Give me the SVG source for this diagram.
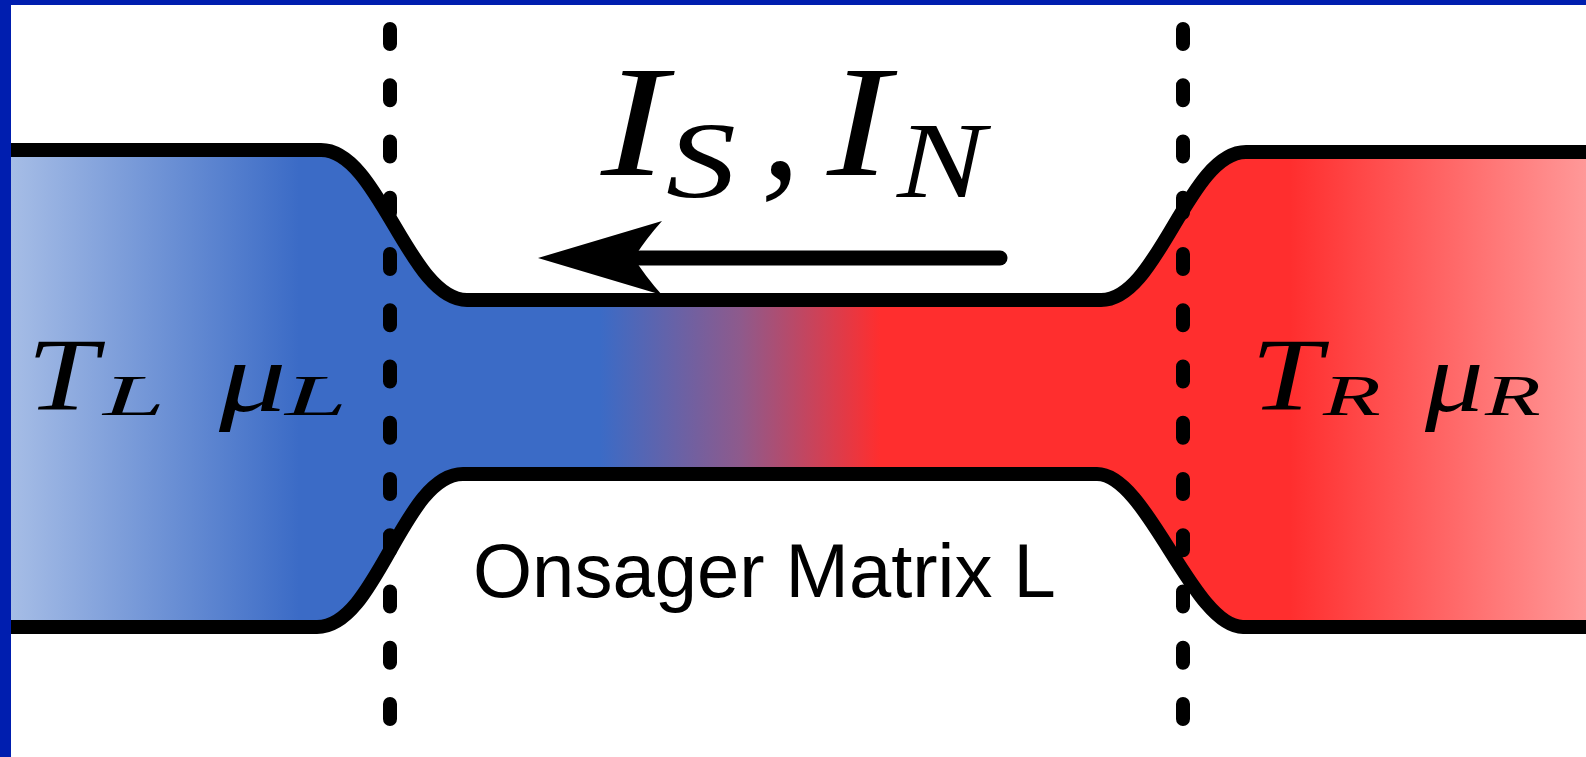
<svg xmlns="http://www.w3.org/2000/svg" width="1586" height="757" viewBox="0 0 1586 757">
  <style>
    .edge { fill: none; stroke: #000; stroke-width: 14; stroke-linejoin: round; }
    .dash { fill: none; stroke: #000; stroke-width: 14; stroke-linecap: round; stroke-dasharray: 15 41.25; }
    .math { font-family: "Liberation Serif", "Times New Roman", serif; font-style: italic; fill: #000; }
    .sans { font-family: "Liberation Sans", Arial, sans-serif; fill: #000; }
  </style>
  <defs>
    <linearGradient id="flow" gradientUnits="userSpaceOnUse" x1="11" y1="0" x2="1586" y2="0">
      <stop offset="0" stop-color="#a6bde6"/>
      <stop offset="0.183" stop-color="#3b6bc6"/>
      <stop offset="0.374" stop-color="#3b6bc6"/>
      <stop offset="0.463" stop-color="#8e5a8c"/>
      <stop offset="0.552" stop-color="#ff2e2e"/>
      <stop offset="0.812" stop-color="#ff2e2e"/>
      <stop offset="1" stop-color="#ff9898"/>
    </linearGradient>
  </defs>
  <rect x="0" y="0" width="1586" height="757" fill="#fff"/>

  <g id="channel">
    <path fill="url(#flow)" d="M 11 150 H 321 C 379 150 409 300 467 300 H 1100 C 1158 302 1188 152 1246 152 H 1586 V 627 H 1243 C 1193 627 1147 474 1097 474 H 463 C 403 474 377 627 317 627 H 11 Z"/>
    <path class="edge" d="M 11 150 H 321 C 379 150 409 300 467 300 H 1100 C 1158 302 1188 152 1246 152 H 1586"/>
    <path class="edge" d="M 11 627 H 317 C 377 627 403 474 463 474 H 1097 C 1147 474 1193 627 1243 627 H 1586"/>
  </g>

  <g id="boundaries">
    <line class="dash" x1="390" y1="29" x2="390" y2="720"/>
    <line class="dash" x1="1183" y1="29" x2="1183" y2="720"/>
  </g>

  <g id="left-reservoir">
    <text class="math" x="27" y="410" font-size="104" textLength="70.6" lengthAdjust="spacingAndGlyphs">T</text>
    <text class="math" x="103" y="415" font-size="58" textLength="62" lengthAdjust="spacingAndGlyphs">L</text>
    <text class="math" x="219" y="411" font-size="100" textLength="67.5" lengthAdjust="spacingAndGlyphs">μ</text>
    <text class="math" x="285" y="415" font-size="58" textLength="62" lengthAdjust="spacingAndGlyphs">L</text>
  </g>

  <g id="right-reservoir">
    <text class="math" x="1251" y="410" font-size="104" textLength="70.6" lengthAdjust="spacingAndGlyphs">T</text>
    <text class="math" x="1323" y="415" font-size="58" textLength="57.8" lengthAdjust="spacingAndGlyphs">R</text>
    <text class="math" x="1425" y="411" font-size="100" textLength="58.6" lengthAdjust="spacingAndGlyphs">μ</text>
    <text class="math" x="1485" y="415" font-size="58" textLength="55.7" lengthAdjust="spacingAndGlyphs">R</text>
  </g>

  <g id="current-label">
    <text class="math" x="601" y="175" font-size="158" textLength="66" lengthAdjust="spacingAndGlyphs">I</text>
    <text class="math" x="666" y="197" font-size="108" textLength="70" lengthAdjust="spacingAndGlyphs">S</text>
    <text class="math" x="761" y="177" font-size="158">,</text>
    <text class="math" x="827" y="175" font-size="158" textLength="63" lengthAdjust="spacingAndGlyphs">I</text>
    <text class="math" x="897" y="197" font-size="108" textLength="88" lengthAdjust="spacingAndGlyphs">N</text>
  </g>

  <g id="connectors">
    <line x1="1000" y1="258" x2="640" y2="258" stroke="#000" stroke-width="15" stroke-linecap="round"/>
    <path fill="#000" d="M 538 258 L 662 221 Q 645 240 634 258 Q 645 276 662 295 Z"/>
  </g>

  <g id="onsager-label">
    <text class="sans" x="473" y="597" font-size="76">Onsager Matrix L</text>
  </g>

  <g id="frame" fill="#001eaf">
    <rect x="0" y="0" width="1586" height="5"/>
    <rect x="0" y="0" width="11" height="757"/>
  </g>
</svg>
